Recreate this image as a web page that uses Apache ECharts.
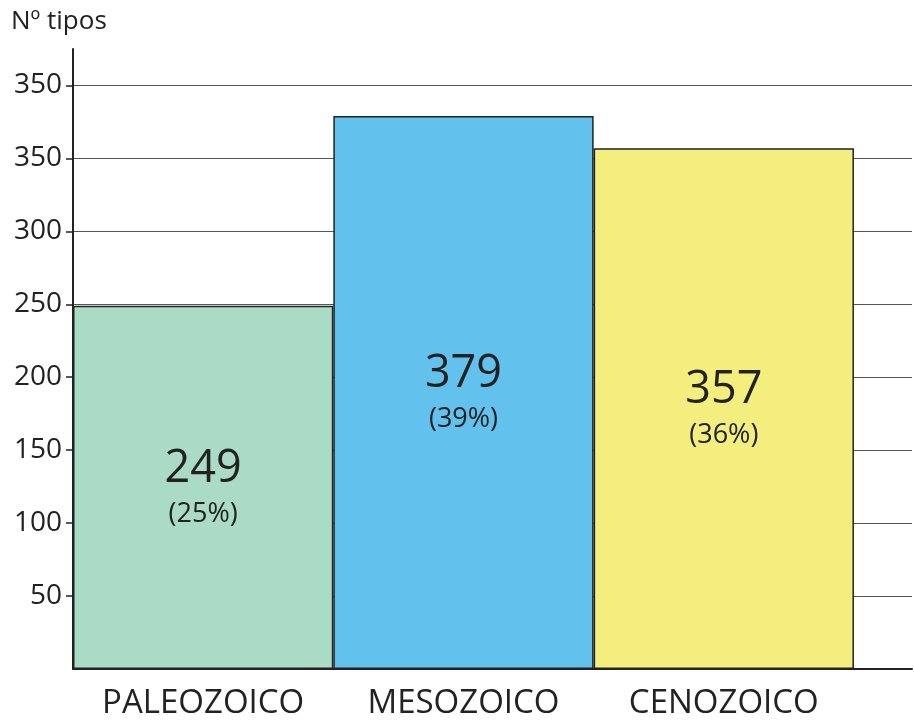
<!DOCTYPE html>
<html>
<head>
<meta charset="utf-8">
<script src="https://cdn.jsdelivr.net/npm/echarts@6/dist/echarts.min.js"></script>
<style>
  html, body { margin: 0; padding: 0; background: #fff; }
  #chart { width: 914px; height: 720px; }
</style>
</head>
<body>
<div id="chart"></div>
<script>
const categories = ['PALEOZOICO', 'MESOZOICO', 'CENOZOICO'];
const values = [249, 379, 357];
const percents = [25, 39, 36];
const barColors = ['#aadbc5', '#63c1ed', '#f4ee7f'];
const yTickValues = [50, 100, 150, 200, 250, 300, 350, 400];
const yTickLabels = ['50', '100', '150', '200', '250', '300', '350', '350'];

const font = '"Open Sans", sans-serif';
const chart = echarts.init(document.getElementById('chart'));

const option = {
    animation: false,
    textStyle: { fontFamily: font },
    title: {
        text: 'Nº tipos',
        left: 6,
        top: 4,
        textStyle: { fontFamily: font, fontSize: 26, fontWeight: 'normal', color: '#222' }
    },
    grid: { left: 73, right: 2, top: 49, bottom: 51 },
    xAxis: {
        type: 'value',
        min: 0,
        max: 3.223,
        splitLine: { show: false },
        axisTick: { show: false },
        axisLine: { show: true, onZero: false, lineStyle: { color: '#222', width: 2 } },
        axisLabel: {
            customValues: [0.5, 1.5, 2.5],
            formatter: (v) => categories[Math.floor(v)] || '',
            fontFamily: font,
            fontSize: 33,
            color: '#222',
            margin: 18
        }
    },
    yAxis: {
        type: 'value',
        min: 0,
        max: 425,
        axisLine: { show: true, lineStyle: { color: '#222', width: 2 } },
        axisTick: {
            show: true,
            customValues: yTickValues,
            length: 7,
            lineStyle: { color: '#222', width: 1.5 }
        },
        axisLabel: {
            customValues: yTickValues,
            formatter: (v) => yTickLabels[yTickValues.indexOf(v)],
            fontFamily: font,
            fontSize: 28,
            color: '#222',
            margin: 11
        },
        splitLine: { show: true, lineStyle: { color: '#555', width: 1.2 } }
    },
    series: [{
        type: 'bar',
        barWidth: '100%',
        data: values.map((v, i) => ({
            value: [i + 0.5, v],
            itemStyle: { color: barColors[i] }
        })),
        itemStyle: { borderColor: '#222', borderWidth: 1.5 },
        label: {
            show: true,
            position: 'inside',
            formatter: (p) => '{a|' + values[p.dataIndex] + '}\n{b|(' + percents[p.dataIndex] + '%)}',
            rich: {
                a: { fontFamily: font, fontSize: 45, color: '#222', lineHeight: 54 },
                b: { fontFamily: font, fontSize: 27, color: '#222', lineHeight: 36 }
            }
        }
    }]
};

chart.setOption(option);
</script>
</body>
</html>
